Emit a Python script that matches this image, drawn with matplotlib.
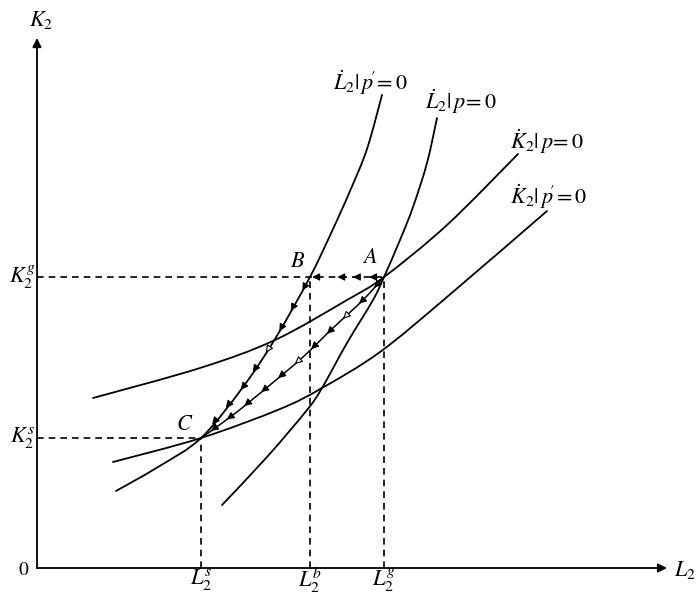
import numpy as np
import matplotlib
matplotlib.use("Agg")
import matplotlib.pyplot as plt
from matplotlib.path import Path
from matplotlib.patches import PathPatch

plt.rcParams['mathtext.fontset'] = 'stix'
plt.rcParams['font.family'] = ['STIXGeneral', 'DejaVu Serif']

# curves (arbitrary units, origin at the axes corner)
lp1_x = [79, 121, 164, 206, 238, 273, 296, 313, 330, 345]      # L2dot | p' = 0
lp1_y = [77, 101, 130, 181, 229, 291, 339, 377, 419, 473]
lp2_x = [185, 230, 270, 285, 310, 336, 347, 363, 376, 390, 400]  # L2dot | p = 0
lp2_y = [63, 111, 158, 180, 225, 268, 291, 328, 361, 405, 450]
kp1_x = [56, 163, 238, 310, 347, 410, 481]                      # K2dot | p = 0
kp1_y = [170, 200, 228, 268, 291, 343, 414]
kp2_x = [76, 164, 243, 285, 343, 410, 510]                      # K2dot | p' = 0
kp2_y = [106, 130, 159, 180, 216, 271, 357]

# adjustment path A -> C
ac_x = [347, 326, 296, 266, 233, 196, 164]
ac_y = [291, 268, 240, 211, 183, 153, 130]

# equilibria
A = (347, 291)
B = (273, 291)
C = (164, 130)

curve_labels = [r"$\dot{L}_2|\,p\!'\!=\mathit{0}$", r'$\dot{L}_2|\,p\!=\mathit{0}$',
                r'$\dot{K}_2|\,p\!=\mathit{0}$', r"$\dot{K}_2|\,p\!'\!=\mathit{0}$"]


def smooth(xs, ys, lw=1.3):
    # catmull-rom through the read points, drawn as bezier segments
    p = np.column_stack([xs, ys]).astype(float)
    verts = [p[0]]
    codes = [Path.MOVETO]
    n = len(p)
    for i in range(n - 1):
        p0 = p[i - 1] if i > 0 else p[i]
        p3 = p[i + 2] if i + 2 < n else p[i + 1]
        c1 = p[i] + (p[i + 1] - p0) / 6
        c2 = p[i + 1] - (p3 - p[i]) / 6
        verts += [c1, c2, p[i + 1]]
        codes += [Path.CURVE4] * 3
    ax.add_patch(PathPatch(Path(verts, codes), fc='none', ec='k', lw=lw, capstyle='round'))


def heads(xs, ys, fracs, hollow=()):
    pts = np.column_stack([xs, ys]).astype(float)
    seg = np.diff(pts, axis=0)
    lens = np.hypot(seg[:, 0], seg[:, 1])
    cum = np.concatenate([[0], np.cumsum(lens)])
    for i, f in enumerate(fracs):
        d = f * cum[-1]
        k = min(np.searchsorted(cum, d) - 1, len(lens) - 1)
        k = max(k, 0)
        u = seg[k] / lens[k]
        p = pts[k] + u * (d - cum[k])
        ax.annotate('', xy=p, xytext=p - u * 7,
                    arrowprops=dict(arrowstyle='-|>', color='k', lw=0.8,
                                    mutation_scale=11, shrinkA=0, shrinkB=0,
                                    fc='white' if i in hollow else 'k'))


fig = plt.figure(figsize=(6.96, 5.94), dpi=100)
ax = fig.add_axes([0, 0, 1, 1])
ax.set_xlim(-37, 659)
ax.set_ylim(-26, 568)
ax.axis('off')

# axes with arrows
ax.annotate('', xy=(0, 530), xytext=(0, 0),
            arrowprops=dict(arrowstyle='-|>', lw=1.3, color='k', mutation_scale=13, shrinkA=0, shrinkB=0))
ax.annotate('', xy=(630, 0), xytext=(0, 0),
            arrowprops=dict(arrowstyle='-|>', lw=1.3, color='k', mutation_scale=13, shrinkA=0, shrinkB=0))
ax.text(-14, -2, '0', fontsize=14, ha='center', va='center')
ax.text(4, 548, r'$K_2$', fontsize=16, ha='center', va='center')
ax.text(648, -2, r'$L_2$', fontsize=16, ha='center', va='center')

# dashed guides
dash = dict(color='k', lw=1.2, ls=(0, (4, 3)))
ax.plot([0, A[0]], [A[1], A[1]], **dash)
ax.plot([0, C[0]], [C[1], C[1]], **dash)
for p in (A, B, C):
    ax.plot([p[0], p[0]], [0, p[1]], **dash)

# curves
for xs, ys in [(lp1_x, lp1_y), (lp2_x, lp2_y), (kp1_x, kp1_y), (kp2_x, kp2_y)]:
    smooth(xs, ys)
smooth(ac_x, ac_y, lw=1.1)

# arrows: A -> B, B -> C, A -> C
heads([A[0], B[0]], [A[1], B[1]], [0.2, 0.42, 0.63, 0.97])
bc_x = lp1_x[2:6][::-1]
bc_y = lp1_y[2:6][::-1]
heads(bc_x, bc_y, [0.08, 0.2, 0.32, 0.45, 0.57, 0.68, 0.8, 0.91], hollow=(3,))
heads(ac_x, ac_y, [0.06, 0.15, 0.24, 0.33, 0.42, 0.51, 0.6, 0.69, 0.78, 0.87, 0.95], hollow=(2, 5))

# curve labels
ax.text(296, 485, curve_labels[0], fontsize=16, ha='left', va='center')
ax.text(388, 466, curve_labels[1], fontsize=16, ha='left', va='center')
ax.text(473, 426, curve_labels[2], fontsize=16, ha='left', va='center')
ax.text(473, 371, curve_labels[3], fontsize=16, ha='left', va='center')

# point labels
ax.text(A[0] - 14, A[1] + 19, r'$A$', fontsize=16, ha='center', va='center')
ax.text(B[0] - 12, B[1] + 15, r'$B$', fontsize=16, ha='center', va='center')
ax.text(C[0] - 16, C[1] + 13, r'$C$', fontsize=16, ha='center', va='center')

# tick labels
ax.text(-15, A[1], r'$K_2^g$', fontsize=16, ha='center', va='center')
ax.text(-15, C[1], r'$K_2^s$', fontsize=16, ha='center', va='center')
ax.text(C[0], -12, r'$L_2^s$', fontsize=16, ha='center', va='center')
ax.text(B[0], -12, r'$L_2^b$', fontsize=16, ha='center', va='center')
ax.text(A[0], -12, r'$L_2^g$', fontsize=16, ha='center', va='center')

fig.savefig('out.png', dpi=100, facecolor='white')
